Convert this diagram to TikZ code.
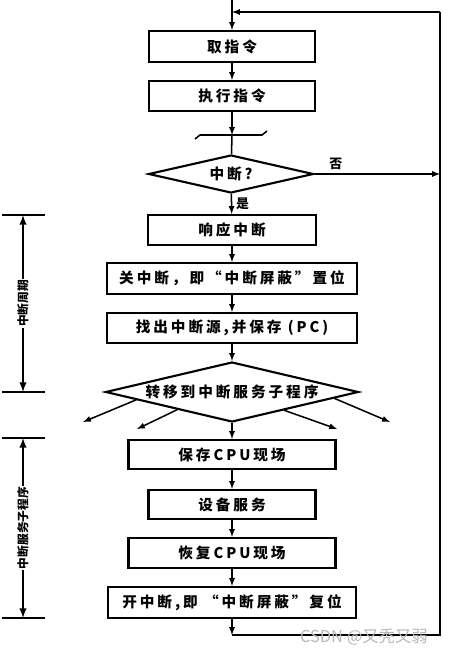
\documentclass[tikz,border=0pt]{standalone}
\usepackage{fontspec}
\setmainfont{Noto Sans CJK SC}
\newfontfamily\cjk[LetterSpace=20]{Noto Sans CJK SC}
\usetikzlibrary{shapes.geometric,calc}
\tikzset{
  proc/.style={draw,line width=1.8pt,inner sep=0pt,font=\cjk\bfseries\fontsize{12.5}{14}\selectfont},
  decide/.style={proc,diamond,aspect=4},
  flow/.style={-latex,line width=1.3pt},
  back/.style={line width=2.2pt},
  span/.style={latex-latex,line width=1.8pt},
  tag/.style={fill=white,rotate=90,inner sep=1pt,font=\bfseries\fontsize{10}{11}\selectfont}
}
\begin{document}
\begin{tikzpicture}[x=0.03cm,y=-0.03cm]
\useasboundingbox (0,0) rectangle (450,656);
\node[proc,minimum width=4.98cm,minimum height=0.93cm] (b1) at (232,46.5) {取指令};
\node[proc,minimum width=4.98cm,minimum height=0.9cm] (b2) at (232,96) {执行指令};
\node[decide,minimum width=4.95cm,minimum height=1.14cm] (d1) at (231,174) {中断?};
\node[proc,minimum width=5.04cm,minimum height=0.9cm] (b3) at (232,230) {响应中断};
\node[proc,minimum width=7.5cm,minimum height=0.93cm] (b4) at (232,278.5) {关中断，即“中断屏蔽”置位};
\node[proc,minimum width=7.5cm,minimum height=0.9cm] (b5) at (232,328) {找出中断源,并保存 (PC)};
\node[decide,minimum width=7.59cm,minimum height=1.8cm] (d2) at (232,392) {转移到中断服务子程序};
\node[proc,minimum width=6.21cm,minimum height=0.87cm] (b6) at (232,454.5) {保存CPU现场};
\node[proc,minimum width=5.01cm,minimum height=0.87cm] (b7) at (232,504.5) {设备服务};
\node[proc,minimum width=6.21cm,minimum height=0.9cm] (b8) at (232,553) {恢复CPU现场};
\node[proc,minimum width=7.44cm,minimum height=0.93cm] (b9) at (232,602.5) {开中断,即 “中断屏蔽”复位};
\coordinate (top) at (232,0);
\coordinate (jn) at (232,12);
\coordinate (rt) at (440,12);
\coordinate (brk) at (232,135);
\coordinate (rno) at (440,174);
\coordinate (bot) at (232,635);
\coordinate (rb) at (440,635);
\coordinate (o1) at (83,422);
\coordinate (o2) at (137,429);
\coordinate (o3) at (337,429);
\coordinate (o4) at (390,422);
\draw[flow] (top) -- (b1);
\draw[flow] (b1) -- (b2);
\draw[flow] (b2) -- (brk);
\draw[line width=1.3pt] (195,139) -- (200,135) -- (262,135) -- (267,131);
\draw[line width=1.3pt] (brk) -- (d1);
\draw[flow] (d1) -- node[right,font=\bfseries\fontsize{11}{12}\selectfont]{是} (b3);
\draw[flow] (d1.east) -- node[above,pos=0.17,font=\bfseries\fontsize{11}{12}\selectfont]{否} (rno);
\draw[flow] (b3) -- (b4);
\draw[flow] (b4) -- (b5);
\draw[flow] (b5) -- (d2);
\draw[flow] (d2) -- (b6);
\draw[flow] (b6) -- (b7);
\draw[flow] (b7) -- (b8);
\draw[flow] (b8) -- (b9);
\draw[flow] (b9) -- (bot);
\draw[back] (bot) -- (rb) -- (rt);
\draw[flow] (rt) -- (jn);
\foreach \s/\f/\e in {west/0.25/o1,west/0.57/o2,east/0.59/o3,east/0.2/o4}
  \draw[flow] ($(d2.\s)!\f!(d2.south)$) -- (\e);
\foreach \y in {215,392,438,618}
  \draw[back] (2,\y) -- (45,\y);
\coordinate (p1) at (23,215);
\coordinate (p2) at (23,392);
\coordinate (p3) at (23,438);
\coordinate (p4) at (23,618);
\draw[span] (p1) -- node[tag]{中断周期} (p2);
\draw[span] (p3) -- node[tag]{中断服务子程序} (p4);
\node[anchor=west,text=gray!55,font=\fontsize{14}{16}\selectfont] (wm) at (296,637) {CSDN @又秃又弱};
\end{tikzpicture}
\end{document}
